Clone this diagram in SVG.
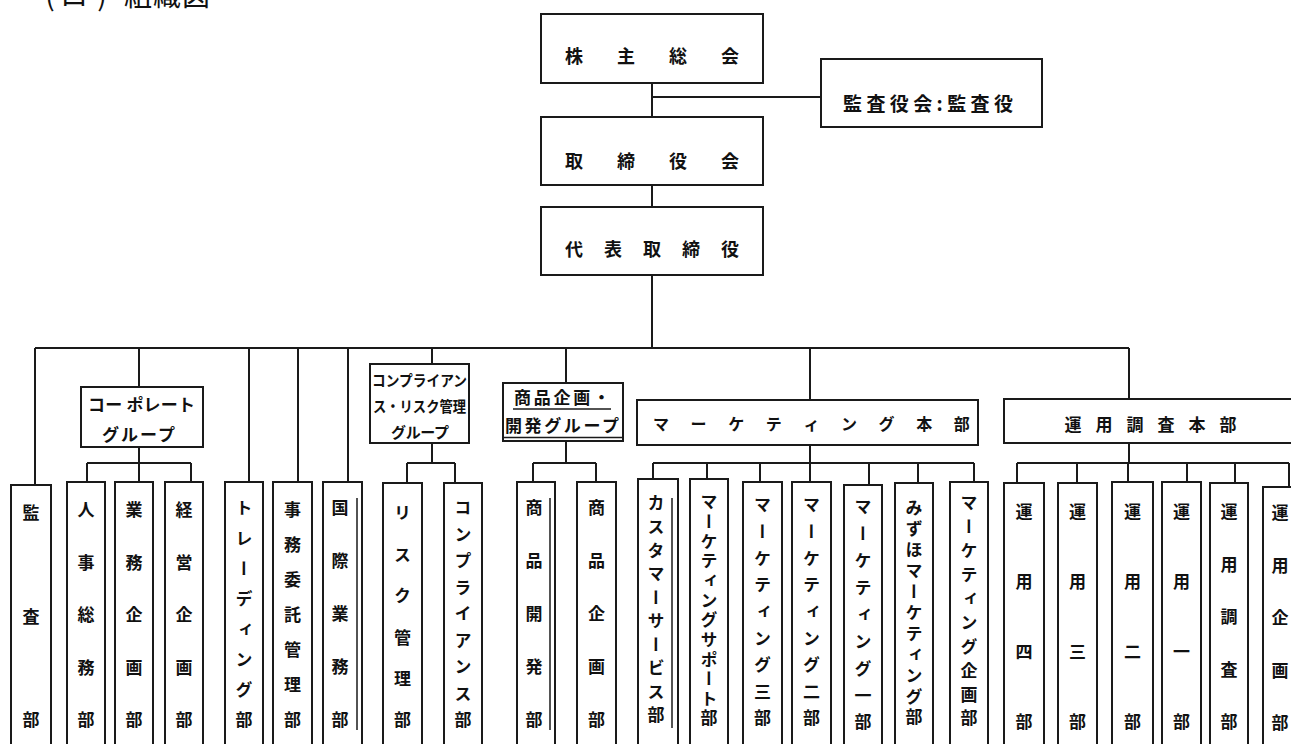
<svg xmlns="http://www.w3.org/2000/svg" width="1291" height="744" viewBox="0 0 1291 744">
<style>
.b{fill:#fff;stroke:#1a1a1a;stroke-width:2}
.c{fill:none;stroke:#1a1a1a;stroke-width:2}
.d{fill:none;stroke:#1a1a1a;stroke-width:1.5}
text{font-family:"Noto Sans CJK JP","Noto Sans CJK SC",sans-serif;fill:#111;font-weight:bold}
.h{font-size:18px;text-anchor:middle;dominant-baseline:central}
.g{font-size:16px;text-anchor:middle;dominant-baseline:central}
.v{font-size:17px;writing-mode:vertical-rl;text-anchor:middle;dominant-baseline:central}
</style>
<rect width="1291" height="744" fill="#fff"/>
<text style="font-size:28px;text-anchor:middle;font-weight:normal"><tspan x="50" y="6">(</tspan><tspan x="74" y="6">ロ</tspan><tspan x="102" y="6">)</tspan><tspan x="138" y="6">組</tspan><tspan x="167" y="6">織</tspan><tspan x="196" y="6">図</tspan></text>

<g id="connectors">
<path class="c" d="M652 83V117M652 97H821M652 185V207M652 275V348M35 348H1129"/>
<path class="c" d="M35 348V485M139 348V387M249 348V482M298 348V482M348 348V482M432 348V364M566 348V383M810 348V400M1129 348V399"/>
<path class="c" d="M139 447V463M87 463H191M87 463V482M139 463V482M191 463V482"/>
<path class="c" d="M432 443V463M407 463H455M407 463V483M455 463V483"/>
<path class="c" d="M566 441V463M533 463H596M533 463V482M596 463V482"/>
<path class="c" d="M810 445V463M653 463H974M653 463V479M707 463V479M760 463V482M810 463V482M869 463V485M918 463V483M974 463V482"/>
<path class="c" d="M1129 443V463M1017 463H1289M1017 463V483M1077 463V483M1128 463V482M1187 463V482M1235 463V483M1289 463V487"/>
</g>

<g id="n-kabunushi"><rect class="b" x="541" y="14" width="222" height="69"/>
<text class="h"><tspan x="574" y="55">株</tspan><tspan x="626" y="55">主</tspan><tspan x="678" y="55">総</tspan><tspan x="730" y="55">会</tspan></text></g>
<g id="n-kansayaku"><rect class="b" x="821" y="59" width="221" height="68"/>
<text style="font-size:19px;dominant-baseline:central" x="843" y="102" textLength="170" lengthAdjust="spacing">監査役会:監査役</text></g>
<g id="n-torishimariyakukai"><rect class="b" x="541" y="117" width="222" height="68"/>
<text class="h"><tspan x="574" y="160">取</tspan><tspan x="626" y="160">締</tspan><tspan x="678" y="160">役</tspan><tspan x="730" y="160">会</tspan></text></g>
<g id="n-daihyo"><rect class="b" x="541" y="207" width="222" height="68"/>
<text class="h"><tspan x="574" y="248">代</tspan><tspan x="613" y="248">表</tspan><tspan x="652" y="248">取</tspan><tspan x="691" y="248">締</tspan><tspan x="730" y="248">役</tspan></text></g>

<g id="n-corporate"><rect class="b" x="81" y="387" width="122" height="60"/>
<text style="font-size:17px;dominant-baseline:central" x="88" y="403" textLength="107" lengthAdjust="spacing">コー ポレート</text>
<text style="font-size:17px;dominant-baseline:central" x="102" y="433" textLength="73" lengthAdjust="spacing">グループ</text></g>
<g id="n-compliance-group"><rect class="b" x="370" y="364" width="99" height="79"/>
<text style="font-size:15px;dominant-baseline:central" x="372" y="379" textLength="95" lengthAdjust="spacingAndGlyphs">コンプライアン</text>
<text style="font-size:15px;dominant-baseline:central" x="373" y="405" textLength="93" lengthAdjust="spacingAndGlyphs">ス・リスク管理</text>
<text style="font-size:15px;dominant-baseline:central" x="391" y="431" textLength="58" lengthAdjust="spacing">グループ</text></g>
<g id="n-shohin-group"><rect class="b" x="503" y="383" width="120" height="58"/>
<line class="d" x1="513" y1="409" x2="611" y2="409"/><line class="d" x1="504" y1="437.5" x2="622" y2="437.5"/>
<text style="font-size:17px;dominant-baseline:central" x="514" y="396" textLength="96" lengthAdjust="spacing">商品企画・</text>
<text style="font-size:17px;dominant-baseline:central" x="505" y="424" textLength="114" lengthAdjust="spacing">開発グループ</text></g>
<g id="n-marketing-hq"><rect class="b" x="637" y="400" width="341" height="45"/>
<text class="g"><tspan x="661" y="423">マ</tspan><tspan x="698.6" y="423">ー</tspan><tspan x="736.2" y="423">ケ</tspan><tspan x="773.8" y="423">テ</tspan><tspan x="811.4" y="423">ィ</tspan><tspan x="849" y="423">ン</tspan><tspan x="886.6" y="423">グ</tspan><tspan x="924.2" y="423">本</tspan><tspan x="961.8" y="423">部</tspan></text></g>
<g id="n-unyo-hq"><rect class="b" x="1004" y="399" width="300" height="44"/>
<text style="font-size:17px;text-anchor:middle;dominant-baseline:central"><tspan x="1073" y="423">運</tspan><tspan x="1104" y="423">用</tspan><tspan x="1135" y="423">調</tspan><tspan x="1166" y="423">査</tspan><tspan x="1197" y="423">本</tspan><tspan x="1228" y="423">部</tspan></text></g>

<g id="n-kansa"><rect class="b" x="11" y="485" width="40" height="280"/>
<text class="v"><tspan x="31" y="513">監</tspan><tspan x="31" y="616.5">査</tspan><tspan x="31" y="720">部</tspan></text></g>
<g id="n-jinji"><rect class="b" x="67" y="482" width="38" height="280"/>
<text class="v"><tspan x="86" y="510">人</tspan><tspan x="86" y="562.5">事</tspan><tspan x="86" y="615">総</tspan><tspan x="86" y="667.5">務</tspan><tspan x="86" y="720">部</tspan></text></g>
<g id="n-gyomu"><rect class="b" x="115" y="482" width="38" height="280"/>
<text class="v"><tspan x="134" y="510">業</tspan><tspan x="134" y="562.5">務</tspan><tspan x="134" y="615">企</tspan><tspan x="134" y="667.5">画</tspan><tspan x="134" y="720">部</tspan></text></g>
<g id="n-keiei"><rect class="b" x="165" y="482" width="38" height="280"/>
<text class="v"><tspan x="184" y="510">経</tspan><tspan x="184" y="562.5">営</tspan><tspan x="184" y="615">企</tspan><tspan x="184" y="667.5">画</tspan><tspan x="184" y="720">部</tspan></text></g>
<g id="n-trading"><rect class="b" x="225" y="482" width="38" height="280"/>
<text class="v"><tspan x="244" y="508">ト</tspan><tspan x="244" y="538.3">レ</tspan><tspan x="244" y="568.6">ー</tspan><tspan x="244" y="598.9">デ</tspan><tspan x="244" y="629.1">ィ</tspan><tspan x="244" y="659.4">ン</tspan><tspan x="244" y="689.7">グ</tspan><tspan x="244" y="720">部</tspan></text></g>
<g id="n-jimu"><rect class="b" x="273" y="482" width="39" height="280"/>
<text class="v"><tspan x="292.5" y="510">事</tspan><tspan x="292.5" y="545">務</tspan><tspan x="292.5" y="580">委</tspan><tspan x="292.5" y="615">託</tspan><tspan x="292.5" y="650">管</tspan><tspan x="292.5" y="685">理</tspan><tspan x="292.5" y="720">部</tspan></text></g>
<g id="n-kokusai"><rect class="b" x="323" y="482" width="39" height="280"/><line class="d" x1="357" y1="498" x2="357" y2="730"/>
<text class="v"><tspan x="340" y="508">国</tspan><tspan x="340" y="561">際</tspan><tspan x="340" y="614">業</tspan><tspan x="340" y="667">務</tspan><tspan x="340" y="720">部</tspan></text></g>
<g id="n-risk"><rect class="b" x="383" y="483" width="39" height="280"/>
<text class="v"><tspan x="402.5" y="513">リ</tspan><tspan x="402.5" y="554.4">ス</tspan><tspan x="402.5" y="595.8">ク</tspan><tspan x="402.5" y="637.2">管</tspan><tspan x="402.5" y="678.6">理</tspan><tspan x="402.5" y="720">部</tspan></text></g>
<g id="n-compliance"><rect class="b" x="444" y="483" width="38" height="280"/>
<text class="v"><tspan x="463" y="508">コ</tspan><tspan x="463" y="534.5">ン</tspan><tspan x="463" y="561">プ</tspan><tspan x="463" y="587.5">ラ</tspan><tspan x="463" y="614">イ</tspan><tspan x="463" y="640.5">ア</tspan><tspan x="463" y="667">ン</tspan><tspan x="463" y="693.5">ス</tspan><tspan x="463" y="720">部</tspan></text></g>
<g id="n-shohin-kaihatsu"><rect class="b" x="517" y="482" width="38" height="280"/><line class="d" x1="550" y1="498" x2="550" y2="730"/>
<text class="v"><tspan x="534" y="508">商</tspan><tspan x="534" y="561">品</tspan><tspan x="534" y="614">開</tspan><tspan x="534" y="667">発</tspan><tspan x="534" y="720">部</tspan></text></g>
<g id="n-shohin-kikaku"><rect class="b" x="577" y="482" width="39" height="280"/>
<text class="v"><tspan x="596.5" y="508">商</tspan><tspan x="596.5" y="561">品</tspan><tspan x="596.5" y="614">企</tspan><tspan x="596.5" y="667">画</tspan><tspan x="596.5" y="720">部</tspan></text></g>
<g id="n-customer"><rect class="b" x="638" y="479" width="40" height="280"/><line class="d" x1="672" y1="498" x2="672" y2="728"/>
<text class="v"><tspan x="656" y="503">カ</tspan><tspan x="656" y="526.6">ス</tspan><tspan x="656" y="550.1">タ</tspan><tspan x="656" y="573.7">マ</tspan><tspan x="656" y="597.2">ー</tspan><tspan x="656" y="620.8">サ</tspan><tspan x="656" y="644.3">ー</tspan><tspan x="656" y="667.9">ビ</tspan><tspan x="656" y="691.4">ス</tspan><tspan x="656" y="715">部</tspan></text></g>
<g id="n-mkt-support"><rect class="b" x="690" y="479" width="38" height="280"/>
<text class="v"><tspan x="709" y="502">マ</tspan><tspan x="709" y="521.6">ー</tspan><tspan x="709" y="541.3">ケ</tspan><tspan x="709" y="560.9">テ</tspan><tspan x="709" y="580.5">ィ</tspan><tspan x="709" y="600.2">ン</tspan><tspan x="709" y="619.8">グ</tspan><tspan x="709" y="639.5">サ</tspan><tspan x="709" y="659.1">ポ</tspan><tspan x="709" y="678.7">ー</tspan><tspan x="709" y="698.4">ト</tspan><tspan x="709" y="718">部</tspan></text></g>
<g id="n-mkt3"><rect class="b" x="743" y="482" width="39" height="280"/>
<text class="v"><tspan x="762.5" y="505">マ</tspan><tspan x="762.5" y="531.6">ー</tspan><tspan x="762.5" y="558.3">ケ</tspan><tspan x="762.5" y="584.9">テ</tspan><tspan x="762.5" y="611.5">ィ</tspan><tspan x="762.5" y="638.1">ン</tspan><tspan x="762.5" y="664.8">グ</tspan><tspan x="762.5" y="691.4">三</tspan><tspan x="762.5" y="718">部</tspan></text></g>
<g id="n-mkt2"><rect class="b" x="792" y="482" width="39" height="280"/>
<text class="v"><tspan x="811.5" y="505">マ</tspan><tspan x="811.5" y="531.6">ー</tspan><tspan x="811.5" y="558.3">ケ</tspan><tspan x="811.5" y="584.9">テ</tspan><tspan x="811.5" y="611.5">ィ</tspan><tspan x="811.5" y="638.1">ン</tspan><tspan x="811.5" y="664.8">グ</tspan><tspan x="811.5" y="691.4">二</tspan><tspan x="811.5" y="718">部</tspan></text></g>
<g id="n-mkt1"><rect class="b" x="844" y="485" width="38" height="280"/>
<text class="v"><tspan x="863" y="507">マ</tspan><tspan x="863" y="533.9">ー</tspan><tspan x="863" y="560.8">ケ</tspan><tspan x="863" y="587.6">テ</tspan><tspan x="863" y="614.5">ィ</tspan><tspan x="863" y="641.4">ン</tspan><tspan x="863" y="668.3">グ</tspan><tspan x="863" y="695.1">一</tspan><tspan x="863" y="722">部</tspan></text></g>
<g id="n-mizuho"><rect class="b" x="895" y="483" width="38" height="280"/>
<text class="v"><tspan x="914" y="508">み</tspan><tspan x="914" y="528.9">ず</tspan><tspan x="914" y="549.8">ほ</tspan><tspan x="914" y="570.7">マ</tspan><tspan x="914" y="591.6">ー</tspan><tspan x="914" y="612.5">ケ</tspan><tspan x="914" y="633.4">テ</tspan><tspan x="914" y="654.3">ィ</tspan><tspan x="914" y="675.2">ン</tspan><tspan x="914" y="696.1">グ</tspan><tspan x="914" y="717">部</tspan></text></g>
<g id="n-mkt-kikaku"><rect class="b" x="950" y="482" width="38" height="280"/>
<text class="v"><tspan x="969" y="503">マ</tspan><tspan x="969" y="526.9">ー</tspan><tspan x="969" y="550.8">ケ</tspan><tspan x="969" y="574.7">テ</tspan><tspan x="969" y="598.6">ィ</tspan><tspan x="969" y="622.4">ン</tspan><tspan x="969" y="646.3">グ</tspan><tspan x="969" y="670.2">企</tspan><tspan x="969" y="694.1">画</tspan><tspan x="969" y="718">部</tspan></text></g>
<g id="n-unyo4"><rect class="b" x="1004" y="483" width="40" height="280"/>
<text class="v"><tspan x="1024" y="512">運</tspan><tspan x="1024" y="582">用</tspan><tspan x="1024" y="652">四</tspan><tspan x="1024" y="722">部</tspan></text></g>
<g id="n-unyo3"><rect class="b" x="1058" y="483" width="39" height="280"/>
<text class="v"><tspan x="1077.5" y="512">運</tspan><tspan x="1077.5" y="582">用</tspan><tspan x="1077.5" y="652">三</tspan><tspan x="1077.5" y="722">部</tspan></text></g>
<g id="n-unyo2"><rect class="b" x="1112" y="482" width="41" height="280"/>
<text class="v"><tspan x="1132.5" y="512">運</tspan><tspan x="1132.5" y="582">用</tspan><tspan x="1132.5" y="652">二</tspan><tspan x="1132.5" y="722">部</tspan></text></g>
<g id="n-unyo1"><rect class="b" x="1162" y="482" width="39" height="280"/>
<text class="v"><tspan x="1181.5" y="512">運</tspan><tspan x="1181.5" y="582">用</tspan><tspan x="1181.5" y="652">一</tspan><tspan x="1181.5" y="722">部</tspan></text></g>
<g id="n-unyo-chosa"><rect class="b" x="1210" y="483" width="38" height="280"/>
<text class="v"><tspan x="1229" y="512">運</tspan><tspan x="1229" y="564.5">用</tspan><tspan x="1229" y="617">調</tspan><tspan x="1229" y="669.5">査</tspan><tspan x="1229" y="722">部</tspan></text></g>
<g id="n-unyo-kikaku"><rect class="b" x="1263" y="487" width="40" height="280"/>
<text class="v"><tspan x="1280" y="513">運</tspan><tspan x="1280" y="565.5">用</tspan><tspan x="1280" y="618">企</tspan><tspan x="1280" y="670.5">画</tspan><tspan x="1280" y="723">部</tspan></text></g>
</svg>
